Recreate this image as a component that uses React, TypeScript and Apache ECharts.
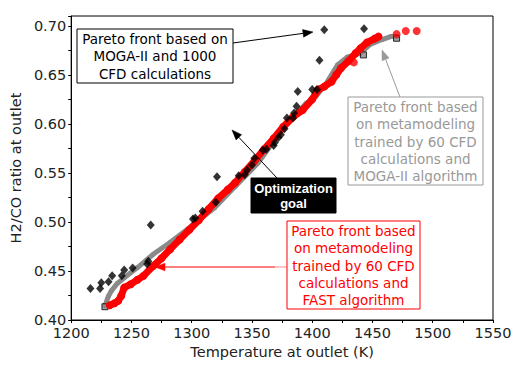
import React, { useEffect, useRef } from "react";
import * as echarts from "echarts";

// Black diamonds: Pareto front, MOGA-II + 1000 CFD calculations [T (K), H2/CO]
const mogaCfd: number[][] = [
  [1216, 0.432], [1224, 0.432], [1225, 0.438], [1231, 0.439], [1234, 0.445],
  [1242, 0.445], [1244, 0.451], [1251, 0.453], [1263, 0.457], [1264, 0.46],
  [1266, 0.497], [1301, 0.503], [1303, 0.504], [1309, 0.511], [1320, 0.52],
  [1321, 0.546], [1339, 0.547], [1344, 0.548], [1346, 0.553], [1350, 0.558],
  [1352, 0.565], [1359, 0.573], [1362, 0.574], [1368, 0.578], [1369, 0.581],
  [1372, 0.586], [1374, 0.589], [1377, 0.595], [1379, 0.606], [1384, 0.606],
  [1385, 0.611], [1387, 0.618], [1388, 0.633], [1400, 0.635], [1404, 0.635],
  [1406, 0.665], [1410, 0.696], [1443, 0.697],
];

// Gray band: metamodel + MOGA-II
const metaMoga: number[][] = [
  [1228, 0.4145], [1231, 0.4245], [1233.5, 0.43], [1238, 0.437], [1244, 0.443],
  [1255, 0.4535], [1268, 0.467], [1282, 0.479], [1300, 0.496], [1319, 0.5145],
  [1336, 0.536], [1355, 0.56], [1375, 0.594], [1395, 0.621], [1403, 0.628],
  [1411, 0.64], [1421, 0.66], [1429, 0.668], [1440, 0.672], [1448, 0.681],
  [1458, 0.686], [1465, 0.689], [1470, 0.689],
];

// Gray squares with black outline at the band ends
const metaMogaEnds: number[][] = [[1228, 0.4135], [1442.5, 0.6703], [1470, 0.6873]];

// Red band: metamodel + FAST
const metaFast: number[][] = [
  [1232, 0.415], [1236, 0.417], [1239, 0.4195], [1241.5, 0.4245], [1244, 0.433],
  [1249.5, 0.4365], [1255, 0.441], [1260, 0.445], [1268, 0.455], [1275, 0.463],
  [1282, 0.472], [1290, 0.482], [1298, 0.492], [1306, 0.502], [1314, 0.513],
  [1322, 0.524], [1330, 0.533], [1336, 0.54], [1344, 0.551], [1352, 0.562],
  [1360, 0.574], [1368, 0.585], [1376, 0.597], [1384, 0.607], [1392, 0.614],
  [1400, 0.625], [1405, 0.635], [1410, 0.638], [1416, 0.643], [1420, 0.65],
  [1424, 0.657], [1430, 0.664], [1436, 0.672], [1440, 0.677], [1445.5, 0.683],
  [1452, 0.687], [1455, 0.689],
];

// Isolated red dots
const metaFastDots: number[][] = [
  [1434.5, 0.6627], [1470, 0.6915], [1477.6, 0.6947], [1486.7, 0.6947],
];

const xName = "Temperature at outlet (K)";
const yName = "H2/CO ratio at outlet";

const boxMoga = ["Pareto front based on", "MOGA-II and 1000", "CFD calculations"];
const boxGray = ["Pareto front based", "on metamodeling", "trained by 60 CFD", "calculations and", "MOGA-II algorithm"];
const boxRed = ["Pareto front based", "on metamodeling", "trained by 60 CFD", "calculations and", "FAST algorithm"];
const boxGoal = ["Optimization", "goal"];

const FONT = '"DejaVu Sans", sans-serif';

function arrow(x1: number, y1: number, x2: number, y2: number, color: string, len = 10, hw = 3.8) {
  const dx = x2 - x1, dy = y2 - y1;
  const d = Math.sqrt(dx * dx + dy * dy);
  const ux = dx / d, uy = dy / d;
  const bx = x2 - ux * len, by = y2 - uy * len;
  const px = -uy, py = ux;
  return [
    { type: "line", shape: { x1, y1, x2: bx, y2: by }, style: { stroke: color, lineWidth: 1 }, z: 20 },
    {
      type: "polygon",
      shape: { points: [[x2, y2], [bx + px * hw, by + py * hw], [bx - px * hw, by - py * hw]] },
      style: { fill: color, stroke: color, lineWidth: 0.5 },
      z: 20,
    },
  ];
}

function textBox(
  x: number, y: number, w: number, h: number, lines: string[], color: string,
  border: string, fill: string, textTop: number, lh: number, font: string
) {
  return [
    { type: "rect", shape: { x, y, width: w, height: h }, style: { fill, stroke: border, lineWidth: 1 }, z: 20 },
    {
      type: "text",
      z: 21,
      style: {
        text: lines.join("\n"),
        x: x + w / 2,
        y: textTop,
        fill: color,
        font,
        align: "center",
        verticalAlign: "top",
        textAlign: "center",
        textVerticalAlign: "top",
        lineHeight: lh,
      },
    },
  ];
}

export default function App() {
  const ref = useRef<HTMLDivElement>(null);
  useEffect(() => {
    if (!ref.current) return;
    const chart = echarts.init(ref.current, undefined, { renderer: "svg" });
    const axisText = { color: "#222", fontSize: 14.5, fontFamily: FONT };
    chart.setOption({
      animation: false,
      backgroundColor: "#fff",
      grid: { left: 59, right: 26, top: 16, bottom: 51, show: true, borderColor: "#000", borderWidth: 1 },
      xAxis: {
        type: "value",
        min: 1200,
        max: 1550,
        interval: 50,
        name: xName,
        nameLocation: "middle",
        nameGap: 24,
        nameTextStyle: axisText,
        axisLine: { show: true, lineStyle: { color: "#000", width: 1 } },
        axisTick: { show: true, inside: false, length: 3, lineStyle: { color: "#000" } },
        minorTick: { show: true, splitNumber: 2, length: 3, lineStyle: { color: "#000" } },
        splitLine: { show: false },
        axisLabel: { ...axisText, margin: 5, formatter: (v: number) => String(Math.round(v)) },
      },
      yAxis: {
        type: "value",
        min: 0.4,
        max: 0.71,
        interval: 0.05,
        name: yName,
        nameLocation: "middle",
        nameGap: 40,
        nameTextStyle: axisText,
        axisLine: { show: true, lineStyle: { color: "#000", width: 1 } },
        axisTick: { show: true, inside: false, length: 3, lineStyle: { color: "#000" } },
        minorTick: { show: true, splitNumber: 2, length: 3, lineStyle: { color: "#000" } },
        splitLine: { show: false },
        axisLabel: {
          ...axisText,
          margin: 5,
          showMaxLabel: false,
          formatter: (v: number) => (Math.abs(v - 0.71) < 1e-6 ? "" : v.toFixed(2)),
        },
      },
      series: [
        {
          type: "line",
          data: metaMoga,
          symbol: "circle",
          symbolSize: 5,
          itemStyle: { color: "#8a8a8a" },
          lineStyle: { color: "#8a8a8a", width: 5, cap: "round", join: "round" },
          z: 2,
        },
        {
          type: "scatter",
          data: metaMogaEnds,
          symbol: "rect",
          symbolSize: 6,
          itemStyle: { color: "#8a8a8a", borderColor: "#000", borderWidth: 1 },
          z: 2,
        },
        {
          type: "line",
          data: metaFast,
          symbol: "circle",
          symbolSize: 8,
          itemStyle: { color: "#ff0000" },
          lineStyle: { color: "#ff0000", width: 7, cap: "round", join: "round" },
          z: 3,
        },
        {
          type: "scatter",
          data: metaFastDots,
          symbol: "circle",
          symbolSize: 8,
          itemStyle: { color: "#ff0000" },
          z: 3,
        },
        {
          type: "scatter",
          data: mogaCfd,
          symbol: "diamond",
          symbolSize: [8, 9],
          itemStyle: { color: "#000" },
          z: 4,
        },
      ],
      graphic: [
        ...arrow(233, 43, 313, 32, "#000"),
        ...textBox(77, 29, 156, 54, boxMoga, "#000", "#000", "#fff", 30.5, 17.2, `13.5px ${FONT}`),
        ...arrow(400, 97, 382, 50, "#999"),
        ...textBox(348, 97, 135, 88, boxGray, "#999", "#999", "#fff", 98.8, 17.1, `13.5px ${FONT}`),
        ...arrow(277, 178, 232, 130, "#000"),
        ...textBox(251, 178, 85, 35, boxGoal, "#fff", "#000", "#000", 180.5, 15, `bold 13px "Liberation Sans", sans-serif`),
        { type: "line", shape: { x1: 275, y1: 267, x2: 287, y2: 267 }, style: { stroke: "#ff8a8a", lineWidth: 1 }, z: 20 },
        ...arrow(275, 267, 155, 267, "#ff0000"),
        ...textBox(287, 221, 133, 88, boxRed, "#ff0000", "#ff0000", "#fff", 222.8, 17.1, `13.5px ${FONT}`),
      ],
    });
    return () => chart.dispose();
  }, []);
  return <div ref={ref} style={{ position: "fixed", left: 0, top: 0, width: 519, height: 371 }} />;
}
